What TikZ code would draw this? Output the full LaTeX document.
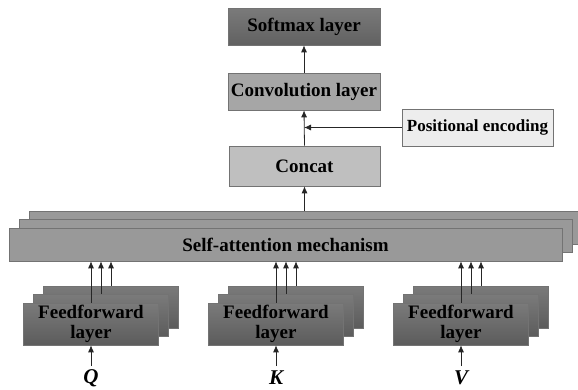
\documentclass[tikz,border=0pt]{standalone}
\usepackage{fontspec}
\setmainfont{Liberation Serif}
\usetikzlibrary{positioning,arrows.meta}

\def\dx{10}
\def\dy{8.5}
\tikzset{
  block/.style={draw=black!55,line width=.6pt,font=\bfseries\fontsize{19}{20}\selectfont,align=center,inner sep=0pt},
  toplayer/.style={block,minimum width=152pt,minimum height=37pt},
  softmax/.style={toplayer,top color=black!52,bottom color=black!62},
  conv/.style={toplayer,fill=black!35},
  concat/.style={block,minimum width=151pt,minimum height=40pt,fill=black!25},
  posenc/.style={block,minimum width=151pt,minimum height=37pt,fill=black!7,font=\bfseries\fontsize{17}{18}\selectfont},
  attn/.style={block,minimum width=553pt,minimum height=33pt,fill=black!40},
  ffn/.style={block,minimum width=135pt,minimum height=42pt,top color=black!52,bottom color=black!64},
  inp/.style={font=\bfseries\itshape\fontsize{21}{22}\selectfont,inner sep=0pt},
  link/.style={-{Latex[length=7pt,width=6pt]},line width=.8pt,black!85}
}

\begin{document}
\begin{tikzpicture}[x=1pt,y=-1pt]
  \clip (0,0) rectangle (578,389);
  % upper part
  \node[softmax] (soft) at (304,26.5) {Softmax layer};
  \node[conv] (conv) at (304,91.5) {Convolution layer};
  \node[concat] (concat) at (304.5,166) {Concat};
  \node[posenc] (pos) at (477.5,127.5) {Positional encoding};
  \coordinate (join) at (conv.south |- pos.west);
  % self-attention, three heads
  \node[attn] (att3) at (285.5+2*\dx,244.5-2*\dy) {};
  \node[attn] (att2) at (285.5+\dx,244.5-\dy) {};
  \node[attn] (att) at (285.5,244.5) {Self-attention mechanism};
  % feedforward stacks
  \foreach \n/\x/\l in {q/91/Q,k/276/K,v/461/V}{
    \node[ffn] (\n3) at (\x+2*\dx,324-2*\dy) {};
    \node[ffn] (\n2) at (\x+\dx,324-\dy) {};
    \node[ffn] (\n1) at (\x,324) {Feedforward\\layer};
    \node[inp] (\n) at (\x,378) {\l};
    \coordinate (\n0) at (\x,366);
    \draw[link] (\n0) -- (\n1.south);
    \draw[link] (\n1.north) -- (\n1.north |- att.south);
    \draw[link] (\n2.north) -- (\n2.north |- att.south);
    \draw[link] (\n3.north) -- (\n3.north |- att.south);
  }
  \draw[link] (att3.north -| concat.south) -- (concat.south);
  \draw[link] (concat.north) -- (conv.south);
  \draw[link] (pos.west) -- (join);
  \draw[link] (conv.north) -- (soft.south);
\end{tikzpicture}
\end{document}
